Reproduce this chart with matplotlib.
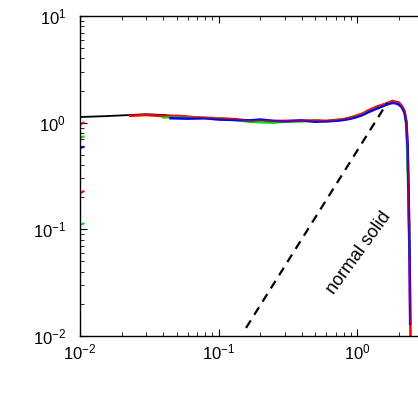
import numpy as np
import matplotlib.pyplot as plt

plt.rcParams['font.family'] = ['Liberation Sans', 'DejaVu Sans']
plt.rcParams['mathtext.fontset'] = 'custom'
plt.rcParams['mathtext.rm'] = 'Liberation Sans'
plt.rcParams['mathtext.it'] = 'Liberation Sans:italic'

# ************************************************************
# Data
# ************************************************************

black_x = [0.01, 0.015, 0.02, 0.03, 0.04, 0.05, 0.07]
black_y = [1.13, 1.15, 1.17, 1.2, 1.18, 1.15, 1.12]

red_x = [0.023, 0.03, 0.04, 0.05, 0.07, 0.1, 0.13, 0.17, 0.2, 0.25, 0.3,
         0.4, 0.5, 0.6, 0.7, 0.8, 0.9, 1.0, 1.1, 1.2, 1.4, 1.6, 1.7, 1.8,
         1.9, 2.0, 2.1, 2.2, 2.27, 2.32, 2.36, 2.4, 2.43, 2.46]
red_y = [1.16, 1.18, 1.15, 1.16, 1.12, 1.1, 1.08, 1.04, 1.05, 1.03, 1.04,
         1.04, 1.05, 1.04, 1.06, 1.08, 1.12, 1.17, 1.22, 1.3, 1.42, 1.5, 1.55, 1.6,
         1.57, 1.55, 1.45, 1.3, 1.05, 0.6, 0.2, 0.05, 0.012, 0.004]

green_x = [0.04, 0.05, 0.07, 0.1, 0.13, 0.17, 0.2, 0.25, 0.3, 0.4, 0.5,
           0.6, 0.7, 0.8, 0.9, 1.0, 1.1, 1.2, 1.4, 1.6, 1.7, 1.8, 1.9, 2.0,
           2.1, 2.2, 2.26, 2.31, 2.35, 2.39]
green_y = [1.12, 1.13, 1.11, 1.09, 1.06, 1.02, 1.01, 1.0, 1.02, 1.03, 1.04,
           1.03, 1.05, 1.07, 1.1, 1.15, 1.2, 1.27, 1.38, 1.48, 1.52, 1.55, 1.53, 1.5,
           1.42, 1.27, 1.0, 0.55, 0.2, 0.06]

blue_x = [0.045, 0.06, 0.08, 0.1, 0.13, 0.17, 0.2, 0.25, 0.3, 0.4, 0.5,
          0.6, 0.7, 0.8, 0.9, 1.0, 1.1, 1.2, 1.4, 1.6, 1.7, 1.8, 1.9, 2.0,
          2.1, 2.2, 2.27, 2.32, 2.36, 2.4, 2.42]
blue_y = [1.1, 1.09, 1.1, 1.07, 1.06, 1.05, 1.07, 1.04, 1.03, 1.05, 1.02,
          1.03, 1.04, 1.06, 1.09, 1.13, 1.18, 1.25, 1.36, 1.46, 1.5, 1.53, 1.52, 1.48,
          1.4, 1.25, 1.0, 0.6, 0.2, 0.05, 0.013]

# short fragments at the left edge
edge_red_y = [0.97, 0.22]
edge_green_y = [0.72, 0.11]
edge_blue_y = [0.58]

# x^2 guide line
guide_x = [0.158, 1.65]
guide_y = [0.0119, 1.53]

# ************************************************************
# Plot
# ************************************************************

fig = plt.figure(figsize=(4.18, 3.99), dpi=100)
ax = fig.add_axes([80/418, 63/399, 415.5/418, 320/399])

ax.plot(black_x, black_y, color='black', lw=1.3)
ax.plot(red_x, red_y, color='red', lw=1.8)
ax.plot(green_x, green_y, color='#00dd00', lw=1.8)
ax.plot(blue_x, blue_y, color='blue', lw=1.8)
ax.plot(red_x, red_y, color='red', lw=1.0, alpha=0.6)

for yv in edge_red_y:
    ax.plot([0.0101, 0.0106], [yv, yv * 1.03], color='red', lw=1.5)
for yv in edge_green_y:
    ax.plot([0.0101, 0.0106], [yv, yv * 1.03], color='#00dd00', lw=1.5)
for yv in edge_blue_y:
    ax.plot([0.0101, 0.0106], [yv, yv * 1.02], color='blue', lw=1.5)

ax.plot(guide_x, guide_y, color='black', lw=1.6, ls=(0, (4, 3)))

ax.text(1.03, 0.06, "normal solid", rotation=54, ha='center', va='center',
        fontsize=13)

ax.set_xscale('log')
ax.set_yscale('log')
ax.set_xlim(0.01, 10)
ax.set_ylim(0.01, 10)

ax.set_xticks([0.01, 0.1, 1, 10])
ax.set_xticklabels(['$10^{-2}$', '$10^{-1}$', '$10^{0}$', ''])
ax.set_yticks([0.01, 0.1, 1, 10])
ax.set_yticklabels(['$10^{-2}$', '$10^{-1}$', '$10^{0}$', '$10^{1}$'])

ax.spines['right'].set_visible(False)
for s in ['left', 'top', 'bottom']:
    ax.spines[s].set_linewidth(1.0)

ax.tick_params(which='both', direction='in', top=True, right=False,
               labelsize=12)
ax.tick_params(which='major', length=5)
ax.tick_params(which='minor', length=3)
ax.tick_params(axis='y', pad=10)
ax.tick_params(axis='x', pad=5)

fig.savefig('out.png', dpi=100)
